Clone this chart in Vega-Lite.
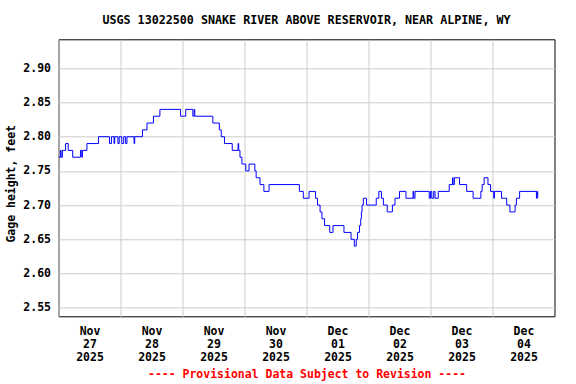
{
  "$schema": "https://vega.github.io/schema/vega-lite/v6.json",
  "autosize": "none",
  "width": 496,
  "height": 277,
  "padding": {"left": 58.5, "top": 39.3, "right": 21, "bottom": 68},
  "background": "white",
  "title": {
    "text": "USGS 13022500 SNAKE RIVER ABOVE RESERVOIR, NEAR ALPINE, WY",
    "font": "DejaVu Sans Mono",
    "fontSize": 11.7,
    "fontWeight": "bold",
    "color": "black",
    "anchor": "middle",
    "offset": 13
  },
  "config": {
    "view": {"stroke": "black", "strokeWidth": 1},
    "axis": {
      "labelFont": "DejaVu Sans Mono",
      "titleFont": "DejaVu Sans Mono",
      "labelFontWeight": "bold",
      "titleFontWeight": "bold",
      "labelColor": "black",
      "titleColor": "black",
      "gridColor": "#cccccc",
      "gridWidth": 1,
      "gridOpacity": 1,
      "ticks": false,
      "domain": false
    }
  },
  "data": {
    "values": [
      {"t": "2025-11-27T00:00Z", "v": 2.77},
      {"t": "2025-11-27T00:45Z", "v": 2.78},
      {"t": "2025-11-27T01:00Z", "v": 2.77},
      {"t": "2025-11-27T01:30Z", "v": 2.78},
      {"t": "2025-11-27T02:45Z", "v": 2.79},
      {"t": "2025-11-27T03:45Z", "v": 2.78},
      {"t": "2025-11-27T05:30Z", "v": 2.77},
      {"t": "2025-11-27T08:30Z", "v": 2.78},
      {"t": "2025-11-27T09:00Z", "v": 2.77},
      {"t": "2025-11-27T09:15Z", "v": 2.78},
      {"t": "2025-11-27T11:00Z", "v": 2.79},
      {"t": "2025-11-27T15:30Z", "v": 2.80},
      {"t": "2025-11-27T19:45Z", "v": 2.79},
      {"t": "2025-11-27T20:30Z", "v": 2.80},
      {"t": "2025-11-27T21:30Z", "v": 2.79},
      {"t": "2025-11-27T21:45Z", "v": 2.80},
      {"t": "2025-11-27T23:00Z", "v": 2.79},
      {"t": "2025-11-27T23:30Z", "v": 2.80},
      {"t": "2025-11-28T00:30Z", "v": 2.79},
      {"t": "2025-11-28T01:15Z", "v": 2.80},
      {"t": "2025-11-28T02:00Z", "v": 2.79},
      {"t": "2025-11-28T02:30Z", "v": 2.80},
      {"t": "2025-11-28T05:15Z", "v": 2.79},
      {"t": "2025-11-28T05:30Z", "v": 2.80},
      {"t": "2025-11-28T08:30Z", "v": 2.81},
      {"t": "2025-11-28T10:15Z", "v": 2.82},
      {"t": "2025-11-28T12:45Z", "v": 2.83},
      {"t": "2025-11-28T15:15Z", "v": 2.84},
      {"t": "2025-11-28T23:15Z", "v": 2.83},
      {"t": "2025-11-29T01:15Z", "v": 2.84},
      {"t": "2025-11-29T04:00Z", "v": 2.83},
      {"t": "2025-11-29T04:30Z", "v": 2.84},
      {"t": "2025-11-29T04:45Z", "v": 2.83},
      {"t": "2025-11-29T11:45Z", "v": 2.82},
      {"t": "2025-11-29T14:15Z", "v": 2.81},
      {"t": "2025-11-29T15:00Z", "v": 2.80},
      {"t": "2025-11-29T16:15Z", "v": 2.79},
      {"t": "2025-11-29T19:15Z", "v": 2.78},
      {"t": "2025-11-29T21:30Z", "v": 2.79},
      {"t": "2025-11-29T21:45Z", "v": 2.78},
      {"t": "2025-11-29T22:15Z", "v": 2.77},
      {"t": "2025-11-29T23:00Z", "v": 2.76},
      {"t": "2025-11-30T00:30Z", "v": 2.75},
      {"t": "2025-11-30T01:45Z", "v": 2.76},
      {"t": "2025-11-30T04:00Z", "v": 2.75},
      {"t": "2025-11-30T04:30Z", "v": 2.74},
      {"t": "2025-11-30T06:00Z", "v": 2.73},
      {"t": "2025-11-30T07:30Z", "v": 2.72},
      {"t": "2025-11-30T09:30Z", "v": 2.73},
      {"t": "2025-11-30T21:15Z", "v": 2.72},
      {"t": "2025-11-30T22:45Z", "v": 2.71},
      {"t": "2025-12-01T01:00Z", "v": 2.72},
      {"t": "2025-12-01T03:30Z", "v": 2.71},
      {"t": "2025-12-01T04:15Z", "v": 2.70},
      {"t": "2025-12-01T05:15Z", "v": 2.69},
      {"t": "2025-12-01T06:00Z", "v": 2.68},
      {"t": "2025-12-01T07:00Z", "v": 2.67},
      {"t": "2025-12-01T09:00Z", "v": 2.66},
      {"t": "2025-12-01T10:15Z", "v": 2.67},
      {"t": "2025-12-01T14:30Z", "v": 2.66},
      {"t": "2025-12-01T17:15Z", "v": 2.65},
      {"t": "2025-12-01T18:30Z", "v": 2.64},
      {"t": "2025-12-01T19:15Z", "v": 2.65},
      {"t": "2025-12-01T19:45Z", "v": 2.66},
      {"t": "2025-12-01T20:30Z", "v": 2.67},
      {"t": "2025-12-01T21:00Z", "v": 2.68},
      {"t": "2025-12-01T21:15Z", "v": 2.69},
      {"t": "2025-12-01T21:30Z", "v": 2.70},
      {"t": "2025-12-01T22:00Z", "v": 2.71},
      {"t": "2025-12-01T23:15Z", "v": 2.70},
      {"t": "2025-12-02T03:00Z", "v": 2.71},
      {"t": "2025-12-02T04:00Z", "v": 2.72},
      {"t": "2025-12-02T05:00Z", "v": 2.71},
      {"t": "2025-12-02T05:45Z", "v": 2.70},
      {"t": "2025-12-02T07:15Z", "v": 2.69},
      {"t": "2025-12-02T09:15Z", "v": 2.70},
      {"t": "2025-12-02T10:15Z", "v": 2.71},
      {"t": "2025-12-02T12:00Z", "v": 2.72},
      {"t": "2025-12-02T14:30Z", "v": 2.71},
      {"t": "2025-12-02T17:15Z", "v": 2.72},
      {"t": "2025-12-02T17:30Z", "v": 2.71},
      {"t": "2025-12-02T18:00Z", "v": 2.72},
      {"t": "2025-12-02T23:30Z", "v": 2.71},
      {"t": "2025-12-03T00:00Z", "v": 2.72},
      {"t": "2025-12-03T00:30Z", "v": 2.71},
      {"t": "2025-12-03T01:15Z", "v": 2.72},
      {"t": "2025-12-03T01:45Z", "v": 2.71},
      {"t": "2025-12-03T03:00Z", "v": 2.72},
      {"t": "2025-12-03T07:15Z", "v": 2.73},
      {"t": "2025-12-03T08:30Z", "v": 2.74},
      {"t": "2025-12-03T08:45Z", "v": 2.73},
      {"t": "2025-12-03T09:15Z", "v": 2.74},
      {"t": "2025-12-03T11:15Z", "v": 2.73},
      {"t": "2025-12-03T14:00Z", "v": 2.72},
      {"t": "2025-12-03T16:30Z", "v": 2.71},
      {"t": "2025-12-03T19:30Z", "v": 2.72},
      {"t": "2025-12-03T20:00Z", "v": 2.73},
      {"t": "2025-12-03T20:45Z", "v": 2.74},
      {"t": "2025-12-03T22:15Z", "v": 2.73},
      {"t": "2025-12-03T23:15Z", "v": 2.72},
      {"t": "2025-12-04T00:30Z", "v": 2.71},
      {"t": "2025-12-04T00:45Z", "v": 2.72},
      {"t": "2025-12-04T03:30Z", "v": 2.71},
      {"t": "2025-12-04T05:30Z", "v": 2.70},
      {"t": "2025-12-04T06:45Z", "v": 2.69},
      {"t": "2025-12-04T08:45Z", "v": 2.70},
      {"t": "2025-12-04T09:15Z", "v": 2.71},
      {"t": "2025-12-04T10:30Z", "v": 2.72},
      {"t": "2025-12-04T17:00Z", "v": 2.71},
      {"t": "2025-12-04T17:15Z", "v": 2.72},
      {"t": "2025-12-04T17:30Z", "v": 2.71}
    ]
  },
  "mark": {"type": "line", "interpolate": "step-after", "color": "#0000ff", "strokeWidth": 1, "clip": true},
  "encoding": {
    "x": {
      "field": "t",
      "type": "temporal",
      "scale": {
        "type": "utc",
        "domain": [
          {"year": 2025, "month": 11, "date": 27, "utc": true},
          {"year": 2025, "month": 12, "date": 5, "utc": true}
        ],
        "nice": false
      },
      "axis": {
        "title": "---- Provisional Data Subject to Revision ----",
        "titleColor": "#ff0000",
        "titleFontSize": 11.5,
        "titlePadding": 6,
        "values": [
          {"year": 2025, "month": 11, "date": 27, "utc": true},
          {"year": 2025, "month": 11, "date": 28, "utc": true},
          {"year": 2025, "month": 11, "date": 29, "utc": true},
          {"year": 2025, "month": 11, "date": 30, "utc": true},
          {"year": 2025, "month": 12, "date": 1, "utc": true},
          {"year": 2025, "month": 12, "date": 2, "utc": true},
          {"year": 2025, "month": 12, "date": 3, "utc": true},
          {"year": 2025, "month": 12, "date": 4, "utc": true}
        ],
        "labelExpr": "[utcFormat(datum.value, '%b'), utcFormat(datum.value, '%d'), utcFormat(datum.value, '%Y')]",
        "labelOffset": 31,
        "labelFlush": false,
        "labelAlign": "center",
        "labelFontSize": 11.5,
        "labelLineHeight": 13,
        "labelPadding": 9,
        "labelOverlap": false,
        "grid": true
      }
    },
    "y": {
      "field": "v",
      "type": "quantitative",
      "scale": {"domain": [2.5373, 2.9425], "nice": false, "zero": false},
      "axis": {
        "title": "Gage height, feet",
        "titleFontSize": 11.5,
        "titleX": -47,
        "titleY": 144,
        "titleAngle": -90,
        "titleAlign": "center",
        "titleBaseline": "middle",
        "values": [2.55, 2.6, 2.65, 2.7, 2.75, 2.8, 2.85, 2.9],
        "format": ".2f",
        "labelFontSize": 11.5,
        "labelPadding": 8,
        "grid": true
      }
    }
  }
}
